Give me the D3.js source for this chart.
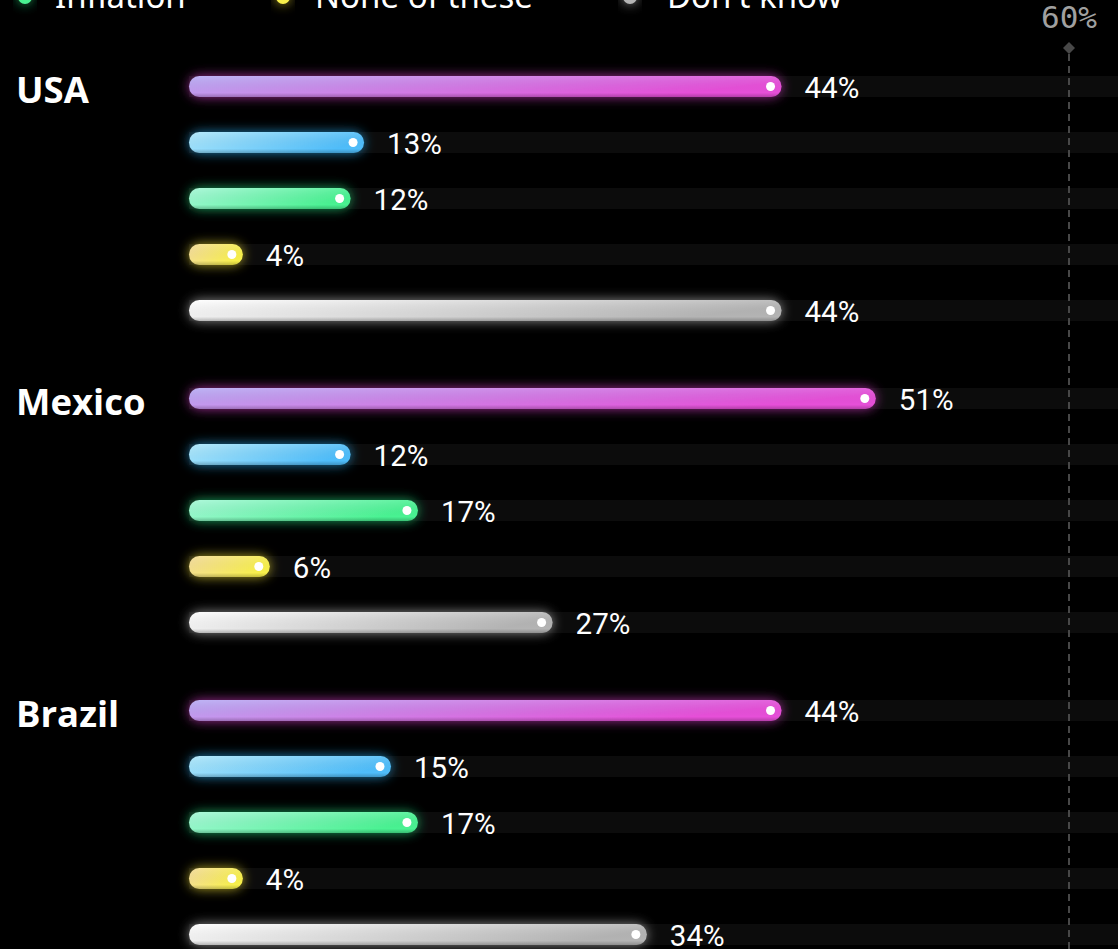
<!DOCTYPE html>
<html>
<head>
<meta charset="utf-8">
<script src="https://cdn.jsdelivr.net/npm/d3@7"></script>
<style>
  html, body { margin: 0; padding: 0; background: #000; }
  svg { display: block; }
</style>
</head>
<body>
<div id="chart"></div>
<script>
// Survey answers by country, one bar per answer
const countries = ["USA", "Mexico", "Brazil"];
const seriesNames = ["Corruption", "Crime", "Inflation", "None of these", "Don't know"];
const usaValues = [44, 13, 12, 4, 44];
const mexicoValues = [51, 12, 17, 6, 27];
const brazilValues = [44, 15, 17, 4, 34];
const axisMax = 60;
const axisTickLabel = "60%";

// Gradient stops (left, right) and glow colour per answer
const seriesLeft = ["#b8aef4", "#b0e8fb", "#a8f8d8", "#f4dc9c", "#ffffff"];
const seriesRight = ["#e64fd8", "#4fbdfa", "#4af292", "#f8f04c", "#b4b4b4"];
const seriesGlow = ["#d23bc4", "#2aa6e8", "#22d37a", "#e8d530", "#d8d8d8"];

const valuesByCountry = [usaValues, mexicoValues, brazilValues];

const W = 1118, H = 949;
const barLeft = 189;
const barH = 21;
const rowStep = 56;
const groupStep = 312;
const firstRowCenter = 86.5;
const markerX = 1069;

const svg = d3.select("#chart").append("svg")
  .attr("width", W).attr("height", H);

const defs = svg.append("defs");

seriesNames.forEach((name, i) => {
  const g = defs.append("linearGradient")
    .attr("id", "grad" + i)
    .attr("x1", "0%").attr("y1", "0%").attr("x2", "100%").attr("y2", "30%");
  g.append("stop").attr("offset", "0%").attr("stop-color", seriesLeft[i]);
  g.append("stop").attr("offset", "100%").attr("stop-color", seriesRight[i]);

  const f = defs.append("filter")
    .attr("id", "glow" + i)
    .attr("x", "-30%").attr("y", "-150%").attr("width", "160%").attr("height", "400%");
  f.append("feDropShadow")
    .attr("dx", 0).attr("dy", 0)
    .attr("stdDeviation", 6)
    .attr("flood-color", seriesGlow[i])
    .attr("flood-opacity", i === 4 ? 0.65 : 0.75);
});

// Shading along the bottom edge of each bar
const shade = defs.append("linearGradient")
  .attr("id", "shade").attr("x1", 0).attr("y1", 0).attr("x2", 0).attr("y2", 1);
shade.append("stop").attr("offset", "0%").attr("stop-color", "#fff").attr("stop-opacity", 0.08);
shade.append("stop").attr("offset", "80%").attr("stop-color", "#000").attr("stop-opacity", 0);
shade.append("stop").attr("offset", "100%").attr("stop-color", "#000").attr("stop-opacity", 0.22);

const x = d3.scaleLinear().domain([0, axisMax]).range([0, 808]);

const rowY = (g, i) => firstRowCenter + g * groupStep + i * rowStep;

// Legend (second row of the legend, top edge of the chart)
const legendItems = [
  { s: 2, cx: 25, tx: 55, y: 8 },
  { s: 3, cx: 283, tx: 315, y: 8 },
  { s: 4, cx: 630, tx: 667, y: 8 }
];
const legend = svg.append("g");
legendItems.forEach(d => {
  legend.append("circle")
    .attr("cx", d.cx).attr("cy", d.y - 11).attr("r", 7)
    .attr("fill", seriesRight[d.s])
    .attr("filter", `url(#glow${d.s})`);
  legend.append("text")
    .attr("x", d.tx).attr("y", d.y)
    .attr("fill", "#fff")
    .attr("font-family", "'Noto Sans', sans-serif")
    .attr("font-size", 33)
    .text(seriesNames[d.s]);
});

// Reference marker at the axis maximum
svg.append("text")
  .attr("x", markerX).attr("y", 28)
  .attr("text-anchor", "middle")
  .attr("fill", "#a0a0a0")
  .attr("font-family", "'DejaVu Sans Mono', monospace")
  .attr("font-size", 31)
  .text(axisTickLabel);

const tracks = svg.append("g");
const marker = svg.append("g");
const bars = svg.append("g");

// Background tracks
countries.forEach((c, g) => {
  valuesByCountry[g].forEach((v, i) => {
    tracks.append("rect")
      .attr("x", barLeft).attr("y", rowY(g, i) - barH / 2)
      .attr("width", W - barLeft).attr("height", barH)
      .attr("fill", "#0c0c0c");
  });
});

marker.append("line")
  .attr("x1", markerX).attr("x2", markerX)
  .attr("y1", 54).attr("y2", H)
  .attr("stroke", "#484848").attr("stroke-width", 2)
  .attr("stroke-dasharray", "7,5");
marker.append("path")
  .attr("d", d3.symbol(d3.symbolSquare, 72)())
  .attr("transform", `translate(${markerX},48) rotate(45)`)
  .attr("fill", "#484848");

countries.forEach((c, g) => {
  svg.append("text")
    .attr("x", 16).attr("y", rowY(g, 0) + 16)
    .attr("fill", "#fff")
    .attr("font-family", "'Open Sans', 'Noto Sans', sans-serif")
    .attr("font-weight", 700)
    .attr("font-size", 36.5)
    .text(c);

  valuesByCountry[g].forEach((v, i) => {
    const cy = rowY(g, i);
    const w = x(v);
    bars.append("rect")
      .attr("x", barLeft).attr("y", cy - barH / 2)
      .attr("width", w).attr("height", barH)
      .attr("rx", barH / 2)
      .attr("fill", `url(#grad${i})`)
      .attr("filter", `url(#glow${i})`);
    bars.append("rect")
      .attr("x", barLeft).attr("y", cy - barH / 2)
      .attr("width", w).attr("height", barH)
      .attr("rx", barH / 2)
      .attr("fill", "url(#shade)");
    bars.append("circle")
      .attr("cx", barLeft + w - 11).attr("cy", cy)
      .attr("r", 4.5)
      .attr("fill", "#fff");
    bars.append("text")
      .attr("x", barLeft + w + 23).attr("y", cy + 11)
      .attr("fill", "#fff")
      .attr("font-family", "Roboto, sans-serif")
      .attr("font-size", 29.5)
      .text(v + "%");
  });
});
</script>
</body>
</html>
